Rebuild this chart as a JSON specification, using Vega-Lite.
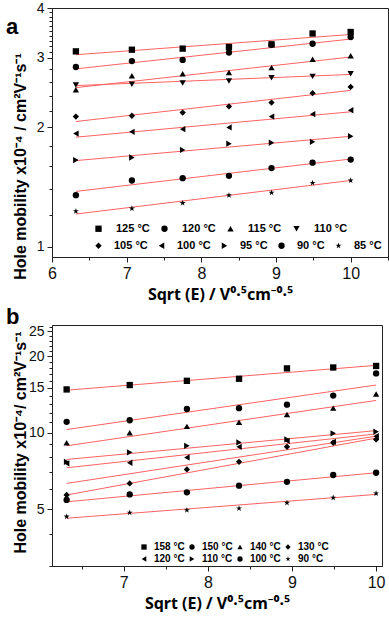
{
  "$schema": "https://vega.github.io/schema/vega-lite/v6.json",
  "padding": {"left": 5, "top": 0, "right": 0, "bottom": 0},
  "spacing": 2,
  "config": {
    "font": "Liberation Sans",
    "view": {"stroke": "#222", "strokeWidth": 1},
    "axis": {"grid": false, "domainColor": "#222", "tickColor": "#222", "labelColor": "#111", "titleColor": "#000", "labelFont": "Liberation Sans", "titleFont": "Liberation Sans", "labelFontSize": 14, "titleFontSize": 16, "titleFontWeight": "bold", "tickSize": 5, "labelPadding": 3},
    "legend": {"labelFont": "Liberation Sans", "labelColor": "#000", "labelFontWeight": "bold", "padding": 0, "symbolStrokeWidth": 0, "symbolFillColor": "#000", "direction": "horizontal", "gridAlign": "each"}
  },
  "datasets": {
    "a_fit": [
      {"s": "125 °C", "x": 6.32, "y": 3.05}, {"s": "125 °C", "x": 10, "y": 3.43},
      {"s": "120 °C", "x": 6.32, "y": 2.81}, {"s": "120 °C", "x": 10, "y": 3.34},
      {"s": "115 °C", "x": 6.32, "y": 2.52}, {"s": "115 °C", "x": 10, "y": 3.01},
      {"s": "110 °C", "x": 6.32, "y": 2.55}, {"s": "110 °C", "x": 10, "y": 2.72},
      {"s": "105 °C", "x": 6.32, "y": 2.07}, {"s": "105 °C", "x": 10, "y": 2.48},
      {"s": "100 °C", "x": 6.32, "y": 1.89}, {"s": "100 °C", "x": 10, "y": 2.19},
      {"s": "95 °C", "x": 6.32, "y": 1.65}, {"s": "95 °C", "x": 10, "y": 1.9},
      {"s": "90 °C", "x": 6.32, "y": 1.38}, {"s": "90 °C", "x": 10, "y": 1.665},
      {"s": "85 °C", "x": 6.32, "y": 1.21}, {"s": "85 °C", "x": 10, "y": 1.47}
    ],
    "a_pts1": [
      {"s": "125 °C", "x": 6.32, "y": 3.11}, {"s": "125 °C", "x": 7.07, "y": 3.14}, {"s": "125 °C", "x": 7.75, "y": 3.16}, {"s": "125 °C", "x": 8.37, "y": 3.19}, {"s": "125 °C", "x": 8.94, "y": 3.24}, {"s": "125 °C", "x": 9.49, "y": 3.45}, {"s": "125 °C", "x": 10, "y": 3.48},
      {"s": "120 °C", "x": 6.32, "y": 2.84}, {"s": "120 °C", "x": 7.07, "y": 2.94}, {"s": "120 °C", "x": 7.75, "y": 2.96}, {"s": "120 °C", "x": 8.37, "y": 3.09}, {"s": "120 °C", "x": 8.94, "y": 3.23}, {"s": "120 °C", "x": 9.49, "y": 3.25}, {"s": "120 °C", "x": 10, "y": 3.38},
      {"s": "115 °C", "x": 6.32, "y": 2.49}, {"s": "115 °C", "x": 7.07, "y": 2.7}, {"s": "115 °C", "x": 7.75, "y": 2.73}, {"s": "115 °C", "x": 8.37, "y": 2.75}, {"s": "115 °C", "x": 8.94, "y": 2.83}, {"s": "115 °C", "x": 9.49, "y": 2.97}, {"s": "115 °C", "x": 10, "y": 3.03},
      {"s": "110 °C", "x": 6.32, "y": 2.56}, {"s": "110 °C", "x": 7.07, "y": 2.57}, {"s": "110 °C", "x": 7.75, "y": 2.59}, {"s": "110 °C", "x": 8.37, "y": 2.62}, {"s": "110 °C", "x": 8.94, "y": 2.67}, {"s": "110 °C", "x": 9.49, "y": 2.69}, {"s": "110 °C", "x": 10, "y": 2.73}
    ],
    "a_pts2": [
      {"s": "105 °C", "x": 6.32, "y": 2.13}, {"s": "105 °C", "x": 7.07, "y": 2.14}, {"s": "105 °C", "x": 7.75, "y": 2.18}, {"s": "105 °C", "x": 8.37, "y": 2.26}, {"s": "105 °C", "x": 8.94, "y": 2.31}, {"s": "105 °C", "x": 9.49, "y": 2.44}, {"s": "105 °C", "x": 10, "y": 2.53},
      {"s": "100 °C", "x": 6.32, "y": 1.93}, {"s": "100 °C", "x": 7.07, "y": 1.95}, {"s": "100 °C", "x": 7.75, "y": 1.98}, {"s": "100 °C", "x": 8.37, "y": 2.0}, {"s": "100 °C", "x": 8.94, "y": 2.13}, {"s": "100 °C", "x": 9.49, "y": 2.16}, {"s": "100 °C", "x": 10, "y": 2.21},
      {"s": "95 °C", "x": 6.32, "y": 1.655}, {"s": "95 °C", "x": 7.07, "y": 1.68}, {"s": "95 °C", "x": 7.75, "y": 1.755}, {"s": "95 °C", "x": 8.37, "y": 1.82}, {"s": "95 °C", "x": 8.94, "y": 1.83}, {"s": "95 °C", "x": 9.49, "y": 1.84}, {"s": "95 °C", "x": 10, "y": 1.9},
      {"s": "90 °C", "x": 6.32, "y": 1.35}, {"s": "90 °C", "x": 7.07, "y": 1.47}, {"s": "90 °C", "x": 7.75, "y": 1.49}, {"s": "90 °C", "x": 8.37, "y": 1.51}, {"s": "90 °C", "x": 8.94, "y": 1.58}, {"s": "90 °C", "x": 9.49, "y": 1.63}, {"s": "90 °C", "x": 10, "y": 1.66},
      {"s": "85 °C", "x": 6.32, "y": 1.23}, {"s": "85 °C", "x": 7.07, "y": 1.25}, {"s": "85 °C", "x": 7.75, "y": 1.29}, {"s": "85 °C", "x": 8.37, "y": 1.35}, {"s": "85 °C", "x": 8.94, "y": 1.37}, {"s": "85 °C", "x": 9.49, "y": 1.45}, {"s": "85 °C", "x": 10, "y": 1.47}
    ],
    "b_fit": [
      {"s": "158 °C", "x": 6.32, "y": 14.7}, {"s": "158 °C", "x": 10, "y": 18.4},
      {"s": "150 °C", "x": 6.32, "y": 10.3}, {"s": "150 °C", "x": 10, "y": 15.4},
      {"s": "140 °C", "x": 6.32, "y": 8.89}, {"s": "140 °C", "x": 10, "y": 13.4},
      {"s": "130 °C", "x": 6.32, "y": 5.7}, {"s": "130 °C", "x": 10, "y": 9.53},
      {"s": "130 °C (2)", "x": 6.32, "y": 6.33}, {"s": "130 °C (2)", "x": 10, "y": 9.7},
      {"s": "120 °C", "x": 6.32, "y": 7.29}, {"s": "120 °C", "x": 10, "y": 9.9},
      {"s": "110 °C", "x": 6.32, "y": 7.86}, {"s": "110 °C", "x": 10, "y": 10.2},
      {"s": "100 °C", "x": 6.32, "y": 5.36}, {"s": "100 °C", "x": 10, "y": 6.97},
      {"s": "90 °C", "x": 6.32, "y": 4.62}, {"s": "90 °C", "x": 10, "y": 5.73}
    ],
    "b_pts": [
      {"s": "158 °C", "x": 6.32, "y": 14.8}, {"s": "158 °C", "x": 7.07, "y": 15.4}, {"s": "158 °C", "x": 7.75, "y": 16.0}, {"s": "158 °C", "x": 8.37, "y": 16.3}, {"s": "158 °C", "x": 8.94, "y": 17.9}, {"s": "158 °C", "x": 9.49, "y": 18.05}, {"s": "158 °C", "x": 10, "y": 18.3},
      {"s": "150 °C", "x": 6.32, "y": 11.04}, {"s": "150 °C", "x": 7.07, "y": 11.2}, {"s": "150 °C", "x": 7.75, "y": 12.4}, {"s": "150 °C", "x": 8.37, "y": 12.5}, {"s": "150 °C", "x": 8.94, "y": 12.9}, {"s": "150 °C", "x": 9.49, "y": 14.0}, {"s": "150 °C", "x": 10, "y": 17.1},
      {"s": "140 °C", "x": 6.32, "y": 9.14}, {"s": "140 °C", "x": 7.07, "y": 10.0}, {"s": "140 °C", "x": 7.75, "y": 10.6}, {"s": "140 °C", "x": 8.37, "y": 11.0}, {"s": "140 °C", "x": 8.94, "y": 11.8}, {"s": "140 °C", "x": 9.49, "y": 12.5}, {"s": "140 °C", "x": 10, "y": 14.2},
      {"s": "130 °C", "x": 6.32, "y": 5.7}, {"s": "130 °C", "x": 7.07, "y": 6.33}, {"s": "130 °C", "x": 7.75, "y": 7.18}, {"s": "130 °C", "x": 8.37, "y": 7.69}, {"s": "130 °C", "x": 8.94, "y": 8.81}, {"s": "130 °C", "x": 9.49, "y": 9.14}, {"s": "130 °C", "x": 10, "y": 9.42},
      {"s": "120 °C", "x": 6.32, "y": 7.59}, {"s": "120 °C", "x": 7.07, "y": 7.63}, {"s": "120 °C", "x": 7.75, "y": 8.0}, {"s": "120 °C", "x": 8.37, "y": 8.81}, {"s": "120 °C", "x": 8.94, "y": 9.3}, {"s": "120 °C", "x": 9.49, "y": 9.22}, {"s": "120 °C", "x": 10, "y": 9.7},
      {"s": "110 °C", "x": 6.32, "y": 7.69}, {"s": "110 °C", "x": 7.07, "y": 8.38}, {"s": "110 °C", "x": 7.75, "y": 8.89}, {"s": "110 °C", "x": 8.37, "y": 9.17}, {"s": "110 °C", "x": 8.94, "y": 9.42}, {"s": "110 °C", "x": 9.49, "y": 9.95}, {"s": "110 °C", "x": 10, "y": 10.1},
      {"s": "100 °C", "x": 6.32, "y": 5.45}, {"s": "100 °C", "x": 7.07, "y": 5.73}, {"s": "100 °C", "x": 7.75, "y": 5.84}, {"s": "100 °C", "x": 8.37, "y": 6.2}, {"s": "100 °C", "x": 8.94, "y": 6.42}, {"s": "100 °C", "x": 9.49, "y": 6.83}, {"s": "100 °C", "x": 10, "y": 6.97},
      {"s": "90 °C", "x": 6.32, "y": 4.69}, {"s": "90 °C", "x": 7.07, "y": 4.86}, {"s": "90 °C", "x": 7.75, "y": 4.97}, {"s": "90 °C", "x": 8.37, "y": 5.05}, {"s": "90 °C", "x": 8.94, "y": 5.31}, {"s": "90 °C", "x": 9.49, "y": 5.56}, {"s": "90 °C", "x": 10, "y": 5.78}
    ]
  },
  "vconcat": [
    {
      "width": 336,
      "height": 249,
      "title": {"text": "a", "orient": "left", "anchor": "end", "frame": "group", "angle": 0, "align": "left", "offset": -6, "baseline": "alphabetic", "fontSize": 22, "fontWeight": "bold", "color": "#000", "dy": 26},
      "layer": [
        {
          "data": {"name": "a_fit"},
          "mark": {"type": "line", "color": "#ff6262", "strokeWidth": 1},
          "encoding": {
            "x": {"field": "x", "type": "quantitative", "scale": {"domain": [6, 10.5], "nice": false, "zero": false},
                  "axis": {"values": [6, 7, 8, 9, 10], "format": "d", "title": "Sqrt (E) / V⁰·⁵cm⁻⁰·⁵", "titleFont": "Noto Sans", "labelFontSize": 16, "titleFontSize": 16, "titlePadding": 5, "labelFlush": false, "orient": "bottom"}},
            "y": {"field": "y", "type": "quantitative", "scale": {"type": "log", "domain": [0.943, 4], "nice": false},
                  "axis": {"values": [1, 2, 3, 4], "format": "d", "title": "Hole mobility x10⁻⁴ / cm²V⁻¹s⁻¹", "titlePadding": 8, "titleY": 158, "orient": "left"}},
            "detail": {"field": "s"}
          }
        },
        {
          "data": {"name": "a_pts1"},
          "mark": {"type": "point", "filled": true, "color": "#000", "opacity": 1, "size": 40},
          "encoding": {
            "x": {"field": "x", "type": "quantitative", "axis": {"values": [6.5, 7.5, 8.5, 9.5, 10.5], "labels": false, "domain": false, "title": null, "tickSize": 3, "orient": "bottom"}},
            "y": {"field": "y", "type": "quantitative", "scale": {"type": "log"}, "axis": {"values": [1.2, 1.4, 1.6, 1.8, 2.2, 2.4, 2.6, 2.8, 3.1, 3.2, 3.3, 3.4, 3.5, 3.6, 3.7, 3.8, 3.9], "labels": false, "domain": false, "title": null, "tickSize": 3, "orient": "left"}},
            "shape": {"field": "s", "type": "nominal",
                      "scale": {"domain": ["125 °C", "120 °C", "115 °C", "110 °C"], "range": ["square", "circle", "triangle-up", "triangle-down"]},
                      "legend": {"orient": "none", "legendX": 41, "legendY": 215, "columns": 4, "title": null, "labelFontSize": 11, "labelOffset": 12, "columnPadding": 9, "symbolSize": 40}}
          }
        },
        {
          "data": {"name": "a_pts2"},
          "mark": {"type": "point", "filled": true, "color": "#000", "opacity": 1, "size": 40},
          "encoding": {
            "x": {"field": "x", "type": "quantitative", "axis": null},
            "y": {"field": "y", "type": "quantitative", "scale": {"type": "log"}, "axis": null},
            "shape": {"field": "s", "type": "nominal",
                      "scale": {"domain": ["105 °C", "100 °C", "95 °C", "90 °C", "85 °C"], "range": ["diamond", "triangle-left", "triangle-right", "circle", "M0,-1L0.2245,-0.309L0.951,-0.309L0.3633,0.118L0.588,0.809L0,0.382L-0.588,0.809L-0.3633,0.118L-0.951,-0.309L-0.2245,-0.309Z"]},
                      "legend": {"orient": "none", "legendX": 41, "legendY": 232, "columns": 5, "title": null, "labelFontSize": 11, "labelOffset": 10, "columnPadding": 8, "symbolSize": 40}}
          }
        }
      ],
      "resolve": {"scale": {"shape": "independent"}, "axis": {"x": "independent", "y": "independent"}}
    },
    {
      "width": 330,
      "height": 241,
      "title": {"text": "b", "orient": "left", "anchor": "end", "frame": "group", "angle": 0, "align": "left", "offset": -7, "baseline": "alphabetic", "fontSize": 22, "fontWeight": "bold", "color": "#000", "dy": -1},
      "layer": [
        {
          "data": {"name": "b_fit"},
          "mark": {"type": "line", "color": "#ff6262", "strokeWidth": 1},
          "encoding": {
            "x": {"field": "x", "type": "quantitative", "scale": {"domain": [6.146, 10.07], "nice": false, "zero": false},
                  "axis": {"values": [7, 8, 9, 10], "format": "d", "title": "Sqrt (E) / V⁰·⁵cm⁻⁰·⁵", "titleFont": "Noto Sans", "labelFontSize": 16, "titleFontSize": 16, "titlePadding": 5, "labelFlush": false, "orient": "bottom"}},
            "y": {"field": "y", "type": "quantitative", "scale": {"type": "log", "domain": [3, 26.5], "nice": false},
                  "axis": {"values": [5, 10, 15, 20, 25], "format": "d", "title": "Hole mobility x10⁻⁴/ cm²V⁻¹s⁻¹", "titlePadding": 0, "titleY": 117, "orient": "left"}},
            "detail": {"field": "s"}
          }
        },
        {
          "data": {"name": "b_pts"},
          "mark": {"type": "point", "filled": true, "color": "#000", "opacity": 1, "size": 40},
          "encoding": {
            "x": {"field": "x", "type": "quantitative", "axis": {"values": [6.5, 7.5, 8.5, 9.5], "labels": false, "domain": false, "title": null, "tickSize": 3, "orient": "bottom"}},
            "y": {"field": "y", "type": "quantitative", "scale": {"type": "log"}, "axis": {"values": [3, 4, 6, 7, 8, 9, 11, 12, 13, 14, 16, 17, 18, 19, 21, 22, 23, 24, 26], "labels": false, "domain": false, "title": null, "tickSize": 3, "orient": "left"}},
            "shape": {"field": "s", "type": "nominal",
                      "scale": {"domain": ["158 °C", "150 °C", "140 °C", "130 °C", "120 °C", "110 °C", "100 °C", "90 °C"], "range": ["square", "circle", "triangle-up", "diamond", "triangle-left", "triangle-right", "circle", "M0,-1L0.2245,-0.309L0.951,-0.309L0.3633,0.118L0.588,0.809L0,0.382L-0.588,0.809L-0.3633,0.118L-0.951,-0.309L-0.2245,-0.309Z"]},
                      "legend": {"orient": "none", "legendX": 87, "legendY": 217, "columns": 4, "title": null, "labelFontSize": 10, "labelOffset": 5, "columnPadding": 2, "rowPadding": 2, "symbolSize": 28}}
          }
        }
      ],
      "resolve": {"scale": {"shape": "independent"}, "axis": {"x": "independent", "y": "independent"}}
    }
  ]
}
